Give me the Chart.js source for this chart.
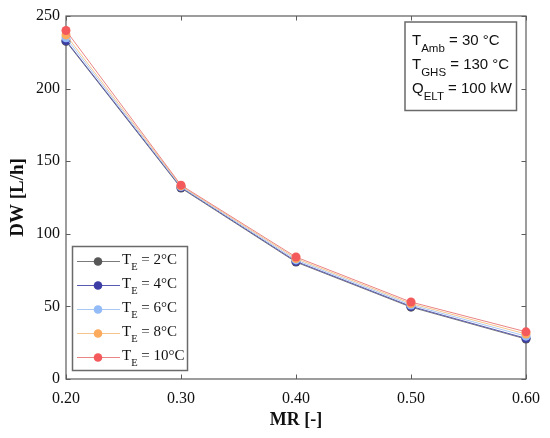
<!DOCTYPE html>
<html>
<head>
<meta charset="utf-8">
<script src="https://cdn.jsdelivr.net/npm/chart.js@4.4.1/dist/chart.umd.min.js"></script>
<style>
  html, body { margin: 0; padding: 0; background: #fff; }
  canvas { display: block; }
</style>
</head>
<body>
<canvas id="dwChart" width="550" height="438"></canvas>
<script>
// MR on x axis, DW [L/h] per evaporator temperature
const mrValues = [0.20, 0.30, 0.40, 0.50, 0.60];
const teLabels = ['2°C', '4°C', '6°C', '8°C', '10°C'];
const dwTe2 = [232.5, 131.5, 80.5, 49.5, 27.5];
const dwTe4 = [233, 132, 81, 50, 28];
const dwTe6 = [235, 132.5, 82, 51, 29.5];
const dwTe8 = [237, 133, 83, 52, 31];
const dwTe10 = [240, 133.5, 84, 53, 32.5];
const xTicks = [0.20, 0.30, 0.40, 0.50, 0.60];
const yTicks = [0, 50, 100, 150, 200, 250];

const seriesValues = [dwTe2, dwTe4, dwTe6, dwTe8, dwTe10];
const pointColors = ['#575757', '#3d3da6', '#93bbf7', '#fcab5c', '#f45a5b'];
const lineColors = ['#7a7a7a', '#5a5ab0', '#a9c9f3', '#f6c58e', '#ea8585'];

const serif = '"Liberation Serif", "Times New Roman", serif';
const sans = '"Liberation Sans", Arial, sans-serif';

function toPoints(vals) {
    return mrValues.map((x, i) => ({ x: x, y: vals[i] }));
}

// frame with inward ticks on all four sides (matlab style)
const framePlugin = {
    id: 'frame',
    beforeDatasetsDraw(chart) {
        const ctx = chart.ctx;
        const a = chart.chartArea;
        const xs = chart.scales.x, ys = chart.scales.y;
        const tl = 4.5;
        ctx.save();
        ctx.strokeStyle = '#5c5c5c';
        ctx.lineWidth = 1.2;
        ctx.strokeRect(a.left, a.top, a.right - a.left, a.bottom - a.top);
        ctx.lineWidth = 1;
        ctx.beginPath();
        xTicks.forEach(v => {
            const px = Math.round(xs.getPixelForValue(v)) + 0.5;
            ctx.moveTo(px, a.bottom); ctx.lineTo(px, a.bottom - tl);
            ctx.moveTo(px, a.top); ctx.lineTo(px, a.top + tl);
        });
        yTicks.forEach(v => {
            const py = Math.round(ys.getPixelForValue(v)) + 0.5;
            ctx.moveTo(a.left, py); ctx.lineTo(a.left + tl, py);
            ctx.moveTo(a.right, py); ctx.lineTo(a.right - tl, py);
        });
        ctx.stroke();
        ctx.restore();
    }
};

// legend with subscripts, bottom left
const legendPlugin = {
    id: 'subLegend',
    afterDraw(chart) {
        const ctx = chart.ctx;
        const bx = 72.5, by = 246.5, bw = 115, bh = 124;
        ctx.save();
        ctx.fillStyle = '#fff';
        ctx.fillRect(bx, by, bw, bh);
        ctx.strokeStyle = '#6a6a6a';
        ctx.lineWidth = 1.5;
        ctx.strokeRect(bx, by, bw, bh);
        teLabels.forEach((lab, i) => {
            const cy = 261.5 + i * 24;
            ctx.strokeStyle = lineColors[i];
            ctx.lineWidth = 1;
            ctx.beginPath();
            ctx.moveTo(77, cy); ctx.lineTo(120, cy);
            ctx.stroke();
            ctx.fillStyle = pointColors[i];
            ctx.beginPath();
            ctx.arc(98, cy, 4.3, 0, Math.PI * 2);
            ctx.fill();
            ctx.fillStyle = '#111';
            ctx.textBaseline = 'alphabetic';
            ctx.font = '15px ' + serif;
            let x = 122;
            ctx.fillText('T', x, cy + 2.5);
            x += ctx.measureText('T').width;
            ctx.font = '10.5px ' + serif;
            ctx.fillText('E', x, cy + 8.5);
            x += ctx.measureText('E').width;
            ctx.font = '15px ' + serif;
            ctx.fillText(' = ' + lab, x, cy + 2.5);
        });
        ctx.restore();
    }
};

// parameter box, top right
const noteLines = [['T', 'Amb', ' = 30 °C'], ['T', 'GHS', ' = 130 °C'], ['Q', 'ELT', ' = 100 kW']];
const notePlugin = {
    id: 'note',
    afterDraw(chart) {
        const ctx = chart.ctx;
        ctx.save();
        ctx.strokeStyle = '#6a6a6a';
        ctx.lineWidth = 1.5;
        ctx.strokeRect(405, 22, 111.5, 88.5);
        ctx.fillStyle = '#111';
        noteLines.forEach((parts, i) => {
            const base = 45 + i * 24;
            let x = 412;
            ctx.font = '15px ' + sans;
            ctx.fillText(parts[0], x, base);
            x += ctx.measureText(parts[0]).width;
            ctx.font = '11.5px ' + sans;
            ctx.fillText(parts[1], x, base + 7);
            x += ctx.measureText(parts[1]).width;
            ctx.font = '15px ' + sans;
            ctx.fillText(parts[2], x, base);
        });
        ctx.restore();
    }
};

const datasets = seriesValues.map((vals, i) => ({
    label: 'TE = ' + teLabels[i],
    data: toPoints(vals),
    borderColor: lineColors[i],
    backgroundColor: pointColors[i],
    pointBackgroundColor: pointColors[i],
    pointBorderColor: pointColors[i],
    borderWidth: 1,
    pointRadius: 4.5,
    pointBorderWidth: 0,
    tension: 0,
    clip: false,
    order: 4 - i
}));

new Chart(document.getElementById('dwChart'), {
    type: 'line',
    data: { datasets: datasets },
    options: {
        responsive: false,
        animation: false,
        layout: { padding: { top: 16, right: 23, left: 0, bottom: 0 } },
        plugins: { legend: { display: false }, tooltip: { enabled: false } },
        scales: {
            x: {
                type: 'linear',
                min: 0.2, max: 0.6,
                afterFit: s => { s.height = 59; },
                afterBuildTicks: s => { s.ticks = xTicks.map(v => ({ value: v })); },
                grid: { display: false, drawTicks: false },
                border: { display: false },
                ticks: {
                    padding: 10,
                    color: '#111',
                    font: { family: serif, size: 16 },
                    callback: v => v.toFixed(2)
                },
                title: {
                    display: true, text: 'MR [-]', color: '#111', padding: 7,
                    font: { family: serif, size: 18, weight: 'bold' }
                }
            },
            y: {
                min: 0, max: 250,
                afterFit: s => { s.width = 66; },
                afterBuildTicks: s => { s.ticks = yTicks.map(v => ({ value: v })); },
                grid: { display: false, drawTicks: false },
                border: { display: false },
                ticks: {
                    padding: 6,
                    color: '#111',
                    font: { family: serif, size: 16 }
                },
                title: {
                    display: true, text: 'DW [L/h]', color: '#111', padding: 7,
                    font: { family: serif, size: 19, weight: 'bold' }
                }
            }
        }
    },
    plugins: [framePlugin, legendPlugin, notePlugin]
});
</script>
</body>
</html>
